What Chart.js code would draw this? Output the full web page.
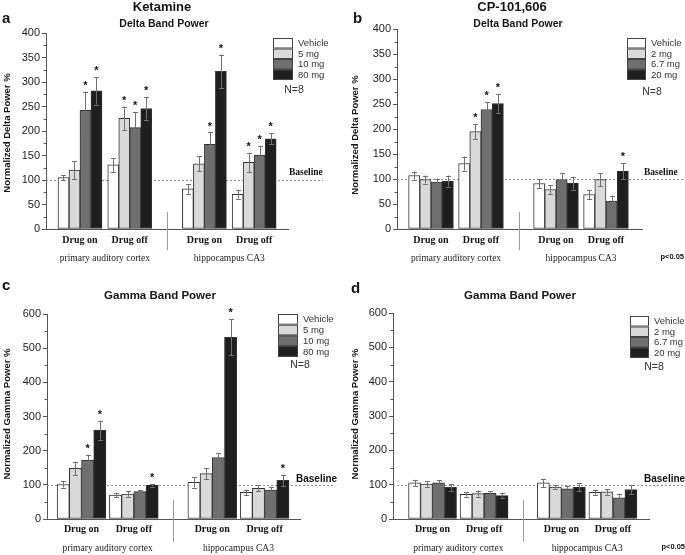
<!DOCTYPE html>
<html>
<head>
<meta charset="utf-8">
<script src="https://cdn.jsdelivr.net/npm/chart.js@4.4.1/dist/chart.umd.min.js"></script>
<style>
  html, body { margin: 0; padding: 0; background: #fff; }
  #wrap { position: relative; width: 685px; height: 555px; overflow: hidden; }
  canvas { position: absolute; }
</style>
</head>
<body>
<div id="wrap">
  <canvas id="pa" width="342" height="275" style="left:0;top:0"></canvas>
  <canvas id="pb" width="343" height="275" style="left:342px;top:0"></canvas>
  <canvas id="pc" width="342" height="280" style="left:0;top:275px"></canvas>
  <canvas id="pd" width="343" height="280" style="left:342px;top:275px"></canvas>
</div>
<script>
(() => {
  'use strict'

  const groupLabels = ['Drug on', 'Drug off', 'Drug on', 'Drug off']
  const groupPos = [0, 1, 2.5, 3.5]
  const regionLabels = ['primary auditory cortex', 'hippocampus CA3']
  const ketamineDoses = ['Vehicle', '5 mg', '10 mg', '80 mg']
  const cpDoses = ['Vehicle', '2 mg', '6.7 mg', '20 mg']
  const doseColors = ['#ffffff', '#d9d9d9', '#6f6f6f', '#1f1f1f']

  // a: ketamine, delta band (one row per dose, one value per group)
  const ketDeltaMean = [
    [105, 131, 82, 71],
    [120, 226, 133, 136],
    [242, 207, 173, 151],
    [282, 246, 322, 184]
  ]
  const ketDeltaErr = [
    [5, 14, 10, 9],
    [18, 24, 15, 20],
    [38, 32, 24, 19],
    [28, 23, 34, 11]
  ]
  const ketDeltaSig = [
    [0, 0, 0, 0],
    [0, 1, 0, 1],
    [1, 1, 1, 1],
    [1, 1, 1, 1]
  ]

  // b: CP-101,606, delta band
  const cpDeltaMean = [
    [107, 131, 91, 69],
    [99, 195, 79, 99],
    [94, 239, 99, 56],
    [96, 251, 92, 116]
  ]
  const cpDeltaErr = [
    [8, 14, 9, 9],
    [8, 15, 9, 13],
    [7, 15, 13, 11],
    [11, 19, 13, 16]
  ]
  const cpDeltaSig = [
    [0, 0, 0, 0],
    [0, 1, 0, 0],
    [0, 1, 0, 0],
    [0, 1, 0, 1]
  ]

  // c: ketamine, gamma band
  const ketGammaMean = [
    [101, 70, 107, 78],
    [148, 73, 133, 90],
    [172, 80, 180, 85],
    [260, 99, 532, 113]
  ]
  const ketGammaErr = [
    [9, 6, 15, 8],
    [20, 8, 16, 9],
    [16, 4, 13, 9],
    [28, 4, 53, 16]
  ]
  const ketGammaSig = [
    [0, 0, 0, 0],
    [0, 0, 0, 0],
    [1, 0, 0, 0],
    [1, 1, 1, 1]
  ]

  // d: CP-101,606, gamma band
  const cpGammaMean = [
    [105, 72, 105, 78],
    [102, 74, 93, 79],
    [105, 75, 88, 62],
    [92, 68, 93, 86]
  ]
  const cpGammaErr = [
    [9, 7, 12, 7],
    [8, 9, 5, 8],
    [8, 6, 9, 12],
    [9, 8, 12, 13]
  ]
  const cpGammaSig = [
    [0, 0, 0, 0],
    [0, 0, 0, 0],
    [0, 0, 0, 0],
    [0, 0, 0, 0]
  ]

  const SANS = '"Liberation Sans", Arial, sans-serif'
  const SERIF = '"Liberation Serif", "Times New Roman", serif'

  function txt (ctx, s, x, y, font, align, color) {
    ctx.font = font
    ctx.textAlign = align || 'center'
    ctx.textBaseline = 'middle'
    ctx.fillStyle = color || '#151515'
    ctx.fillText(s, x, y)
  }

  function makePanel (id, p) {
    const cv = document.getElementById(id)
    const W = cv.width
    const H = cv.height

    const datasets = p.doses.map((d, i) => ({
      label: d,
      data: groupPos.map((x, j) => ({ x, y: p.mean[i][j] })),
      backgroundColor: doseColors[i],
      borderColor: '#333',
      borderWidth: 1,
      borderSkipped: false,
      barThickness: p.barW
    }))

    const decor = {
      id: 'decor',
      beforeDatasetsDraw (chart) {
        const { ctx, chartArea: a, scales: { y } } = chart
        ctx.save()
        // baseline
        const yb = Math.round(y.getPixelForValue(100)) + 0.5
        ctx.strokeStyle = '#8c8c8c'
        ctx.lineWidth = 1
        ctx.setLineDash([2, 2])
        ctx.beginPath()
        ctx.moveTo(a.left, yb)
        ctx.lineTo(p.baseRight, yb)
        ctx.stroke()
        ctx.setLineDash([])
        // minor ticks
        ctx.strokeStyle = '#555'
        for (let v = p.step / 2; v < p.yMax; v += p.step) {
          const yy = Math.round(y.getPixelForValue(v)) + 0.5
          ctx.beginPath()
          ctx.moveTo(a.left - 2.5, yy)
          ctx.lineTo(a.left, yy)
          ctx.stroke()
        }
        ctx.restore()
      },
      afterDatasetsDraw (chart) {
        const { ctx, scales: { y } } = chart
        ctx.save()
        chart.data.datasets.forEach((ds, i) => {
          const meta = chart.getDatasetMeta(i)
          meta.data.forEach((bar, j) => {
            const m = p.mean[i][j]
            const e = p.err[i][j]
            const x = Math.round(bar.x) + 0.5
            const yt = y.getPixelForValue(m + e)
            const yl = y.getPixelForValue(m - e)
            ctx.strokeStyle = '#707070'
            ctx.lineWidth = 1
            ctx.beginPath()
            ctx.moveTo(x, yt)
            ctx.lineTo(x, yl)
            ctx.moveTo(x - 2.5, Math.round(yt) + 0.5)
            ctx.lineTo(x + 2.5, Math.round(yt) + 0.5)
            ctx.moveTo(x - 2.5, Math.round(yl) + 0.5)
            ctx.lineTo(x + 2.5, Math.round(yl) + 0.5)
            ctx.stroke()
            if (p.sig[i][j]) {
              txt(ctx, '*', bar.x, yt - 6, 'bold 11px ' + SANS, 'center', '#111')
            }
          })
        })
        ctx.restore()
      },
      afterDraw (chart) {
        const { ctx, scales: { x } } = chart
        ctx.save()
        if (p.title) txt(ctx, p.title, p.titleX, p.titleY, 'bold 13px ' + SANS)
        txt(ctx, p.letter, p.letterX, p.letterY, 'bold 15px ' + SANS, 'left')
        txt(ctx, p.subtitle, p.subX, p.subY, 'bold ' + p.subSize + 'px ' + SANS)
        // y axis title
        ctx.save()
        ctx.translate(p.yLabX, p.yLabY)
        ctx.rotate(-Math.PI / 2)
        txt(ctx, p.yLabel, 0, 0, 'bold 9.5px ' + SANS)
        ctx.restore()
        // legend
        p.doses.forEach((d, i) => {
          const by = p.legY + i * p.legH
          ctx.fillStyle = doseColors[i]
          ctx.fillRect(p.legX, by, p.legW, p.legH)
          ctx.strokeStyle = '#444'
          ctx.lineWidth = 1
          ctx.strokeRect(p.legX + 0.5, by + 0.5, p.legW - 1, p.legH - 1)
          txt(ctx, d, p.legX + p.legW + 5, by + p.legH / 2 + 0.5, '9.5px ' + SANS, 'left', '#333')
        })
        txt(ctx, 'N=8', p.nX, p.nY, '10.5px ' + SANS, 'center', '#333')
        // baseline label
        txt(ctx, 'Baseline', p.baseLabX, p.baseLabY, p.baseFont, 'left', '#111')
        if (p.pval) txt(ctx, 'p<0.05', p.pX, p.pY, 'bold 7.5px ' + SANS, 'right', '#111')
        // group and region labels
        groupLabels.forEach((g, j) => {
          txt(ctx, g, x.getPixelForValue(groupPos[j]), p.catY, 'bold 10px ' + SERIF)
        })
        regionLabels.forEach((r, k) => {
          const cx = x.getPixelForValue((groupPos[2 * k] + groupPos[2 * k + 1]) / 2)
          txt(ctx, r, cx, p.regY, '9.5px ' + SERIF, 'center', '#222')
        })
        // divider between regions
        const dx = Math.round(x.getPixelForValue((groupPos[1] + groupPos[2]) / 2)) + 0.5
        ctx.strokeStyle = '#9a9a9a'
        ctx.lineWidth = 1
        ctx.beginPath()
        ctx.moveTo(dx, p.divTop)
        ctx.lineTo(dx, p.divBot)
        ctx.stroke()
        ctx.restore()
      }
    }

    // eslint-disable-next-line no-new
    new Chart(cv, {
      type: 'bar',
      data: { datasets },
      options: {
        responsive: false,
        animation: false,
        devicePixelRatio: 1,
        layout: {
          padding: { left: 0, top: p.area.t, right: W - p.area.r, bottom: H - p.area.b }
        },
        plugins: { legend: { display: false }, tooltip: { enabled: false } },
        scales: {
          x: {
            type: 'linear',
            offset: false,
            min: p.xMin,
            max: p.xMax,
            grid: { display: false },
            border: { display: true, color: '#555', width: 1 },
            ticks: { display: false },
            afterFit: (s) => { s.height = 0 }
          },
          y: {
            min: 0,
            max: p.yMax,
            ticks: { stepSize: p.step, padding: 2, color: '#222', font: { family: SANS, size: 11 } },
            grid: { drawOnChartArea: false, drawTicks: true, tickLength: 4, color: '#555' },
            border: { display: true, color: '#555', width: 1 },
            afterFit: (s) => { s.width = p.area.l }
          }
        }
      },
      plugins: [decor]
    })
  }

  makePanel('pa', {
    doses: ketamineDoses, mean: ketDeltaMean, err: ketDeltaErr, sig: ketDeltaSig,
    area: { l: 46, t: 33, r: 288, b: 229 }, xMin: -0.683, xMax: 4.18, barW: 11,
    yMax: 400, step: 50,
    title: 'Ketamine', titleX: 162, titleY: 7,
    letter: 'a', letterX: 2, letterY: 19,
    subtitle: 'Delta Band Power', subX: 164, subY: 24.5, subSize: 10.5,
    yLabel: 'Normalized Delta Power %', yLabX: 7, yLabY: 133,
    legX: 273, legY: 38, legW: 20, legH: 10.5,
    nX: 294, nY: 90,
    baseRight: 323, baseLabX: 289, baseLabY: 173, baseFont: 'bold 9.5px ' + SERIF,
    pval: false,
    catY: 240, regY: 258, divTop: 212, divBot: 250
  })

  makePanel('pb', {
    doses: cpDoses, mean: cpDeltaMean, err: cpDeltaErr, sig: cpDeltaSig,
    area: { l: 55, t: 29, r: 300, b: 229 }, xMin: -0.68, xMax: 4.22, barW: 11.2,
    yMax: 400, step: 50,
    title: 'CP-101,606', titleX: 170, titleY: 7,
    letter: 'b', letterX: 11, letterY: 19,
    subtitle: 'Delta Band Power', subX: 176, subY: 24.5, subSize: 10.5,
    yLabel: 'Normalized Delta Power %', yLabX: 13, yLabY: 135,
    legX: 285, legY: 38, legW: 19, legH: 10.5,
    nX: 310, nY: 92,
    baseRight: 341, baseLabX: 302, baseLabY: 173, baseFont: 'bold 9.5px ' + SERIF,
    pval: true, pX: 342, pY: 257,
    catY: 240, regY: 258, divTop: 212, divBot: 250
  })

  makePanel('pc', {
    doses: ketamineDoses, mean: ketGammaMean, err: ketGammaErr, sig: ketGammaSig,
    area: { l: 47, t: 39, r: 300, b: 244 }, xMin: -0.66, xMax: 4.177, barW: 12.2,
    yMax: 600, step: 100,
    title: null,
    letter: 'c', letterX: 2, letterY: 11,
    subtitle: 'Gamma Band Power', subX: 160, subY: 21, subSize: 11.5,
    yLabel: 'Normalized Gamma Power %', yLabX: 7, yLabY: 139,
    legX: 278, legY: 39, legW: 20, legH: 10.7,
    nX: 300, nY: 90,
    baseRight: 333, baseLabX: 296, baseLabY: 204, baseFont: 'bold 10px ' + SANS,
    pval: false,
    catY: 254, regY: 273, divTop: 225, divBot: 267
  })

  makePanel('pd', {
    doses: cpDoses, mean: cpGammaMean, err: cpGammaErr, sig: cpGammaSig,
    area: { l: 51, t: 38, r: 307, b: 244 }, xMin: -0.767, xMax: 4.2, barW: 12,
    yMax: 600, step: 100,
    title: null,
    letter: 'd', letterX: 9, letterY: 14,
    subtitle: 'Gamma Band Power', subX: 178, subY: 21, subSize: 11.5,
    yLabel: 'Normalized Gamma Power %', yLabX: 13, yLabY: 139,
    legX: 288, legY: 41, legW: 19, legH: 10.5,
    nX: 312, nY: 92,
    baseRight: 341, baseLabX: 302, baseLabY: 204, baseFont: 'bold 10px ' + SANS,
    pval: true, pX: 343, pY: 272,
    catY: 254, regY: 273, divTop: 225, divBot: 267
  })
})()
</script>
</body>
</html>
